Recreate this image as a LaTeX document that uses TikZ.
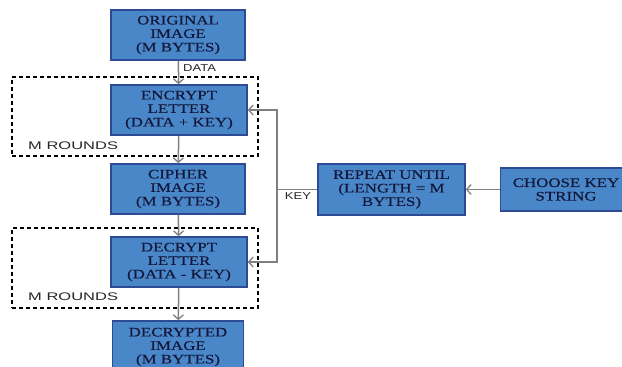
\documentclass[tikz,border=0pt]{standalone}
\usepackage{fontspec}
\usepackage{xcolor}
\usepackage{tikz}
\usetikzlibrary{arrows.meta,positioning}
\newfontfamily\boxfont[FakeStretch=1.3,FakeBold=0.25]{Liberation Serif}
\newfontfamily\labelfont[FakeStretch=1.3]{Liberation Sans}
\newfontfamily\roundsfont[FakeStretch=1.5]{Liberation Sans}
\definecolor{boxfill}{HTML}{4A87C9}
\definecolor{boxline}{HTML}{2C4A96}
\definecolor{boxtext}{HTML}{12173A}
\definecolor{flow}{HTML}{7F7F7F}

\tikzset{
  stage/.style={draw=boxline,line width=1.6pt,fill=boxfill,text=boxtext,
    align=center,inner sep=0pt,
    execute at begin node={\rule{0pt}{14pt}},
    font=\boxfont\fontsize{13}{13.5}\selectfont},
  rounds/.style={draw=black,line width=1.5pt,dash pattern=on 4pt off 3pt,
    inner sep=0pt},
  lbl/.style={font=\labelfont\fontsize{10}{12}\selectfont,text=black!85,inner sep=0pt},
  flowline/.style={draw=flow,line width=1.5pt,
    -{Straight Barb[length=4.5pt,width=10pt,line width=1.3pt]}}
}

\begin{document}
\begin{tikzpicture}[x=1pt,y=-1pt]
      \useasboundingbox (0,0) rectangle (622,367);
      \clip (0,0) rectangle (622,367);
      \path
      (135,116.5) node[rounds,minimum width=246pt,minimum height=79pt](r1) {}
      (135,268) node[rounds,minimum width=246pt,minimum height=80pt](r2) {}
      (178,35) node[stage,minimum width=134pt,minimum height=50pt](orig) {ORIGINAL\\IMAGE\\(M BYTES)}
      (179,110) node[stage,minimum width=136pt,minimum height=50pt](enc) {ENCRYPT\\LETTER\\(DATA + KEY)}
      (178,189) node[stage,minimum width=134pt,minimum height=50pt](ciph) {CIPHER\\IMAGE\\(M BYTES)}
      (179,262) node[stage,minimum width=136pt,minimum height=50pt](dec) {DECRYPT\\LETTER\\(DATA - KEY)}
      (178,347) node[stage,minimum width=131pt,minimum height=52pt](decd) {DECRYPTED\\IMAGE\\(M BYTES)}
      (391.5,189.5) node[stage,minimum width=147pt,minimum height=51pt](rep) {REPEAT UNTIL\\(LENGTH = M\\BYTES)}
      (566,189.5) node[stage,minimum width=131pt,minimum height=43pt](key) {CHOOSE KEY\\STRING}
      (277,189.5) coordinate(split)
      ;

      \node[lbl,anchor=west] (data) at (183,68) {DATA};
      \node[lbl] (keylbl) at (298,196.5) {KEY};
      \node[lbl,font=\roundsfont\fontsize{11}{12}\selectfont,anchor=west] (m1) at (28,146) {M ROUNDS};
      \node[lbl,font=\roundsfont\fontsize{11}{12}\selectfont,anchor=west] (m2) at (28,297) {M ROUNDS};

      \draw[flowline] (orig) -- (enc);
      \draw[flowline] (enc) -- (ciph);
      \draw[flowline] (ciph) -- (dec);
      \draw[flowline] (dec) -- (decd);
      \draw[flowline] (key) -- (rep);
      \draw[flowline] (rep.west) -- (split) |- (enc.east);
      \draw[flowline] (split) |- (dec.east);
    \end{tikzpicture}
\end{document}
